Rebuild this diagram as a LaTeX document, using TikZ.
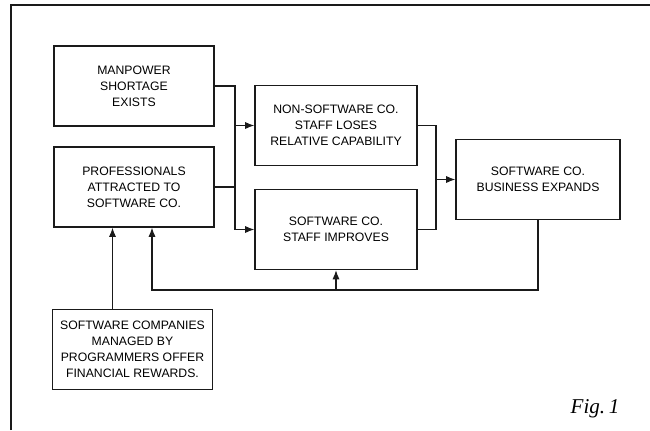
\documentclass[tikz,border=0pt]{standalone}
\usepackage{fontspec}
\setmainfont{Liberation Serif}
\newfontfamily\boxfont{Liberation Sans}
\usepackage{tikz}
\usetikzlibrary{arrows.meta,positioning}
\definecolor{figink}{HTML}{1A1A1A}
\tikzset{
  block/.style={rectangle,draw=figink,line width=1pt,fill=white,align=center,minimum width=4cm,minimum height=2cm,inner sep=2pt,font=\boxfont\fontsize{8.7}{11.4}\selectfont},
  link/.style={line width=0.75pt,draw=figink},
  flow/.style={-{Latex[length=2.3mm,width=1.8mm]},line width=0.75pt,draw=figink}
}

\begin{document}
\begin{tikzpicture}[x=0.025cm,y=-0.025cm]
\useasboundingbox (0,0) rectangle (650,430);
\draw[link] (11,430) -- (11,5) -- (650,5);
\node[block] (manp) at (134,86) {MANPOWER\\SHORTAGE\\EXISTS};
\node[block] (prof) at (134,187) {PROFESSIONALS\\ATTRACTED TO\\SOFTWARE CO.};
\node[block,minimum width=4.05cm] (nonsw) at (336,125.5) {NON-SOFTWARE CO.\\STAFF LOSES\\RELATIVE CAPABILITY};
\node[block,minimum width=4.05cm] (staff) at (336,229.5) {SOFTWARE CO.\\STAFF IMPROVES};
\node[block,minimum width=4.1cm] (biz) at (538,179.5) {SOFTWARE CO.\\BUSINESS EXPANDS};
\node[block] (mgd) at (132.5,349.5) {SOFTWARE COMPANIES\\MANAGED BY\\PROGRAMMERS OFFER\\FINANCIAL REWARDS.};
\node[font=\itshape\fontsize{15}{17}\selectfont] (fig) at (595,409) {Fig.\,1};
\coordinate (jl) at (235,0);
\coordinate (jr) at (436,0);
\coordinate (fbk) at (538,290);
% inputs to the two staff boxes
\draw[flow] (manp.east) -| (jl |- staff.west) -- (staff.west);
\draw[link] (prof.east) -- (jl |- prof.east);
\draw[flow] (jl |- nonsw.west) -- (nonsw.west);
% staff boxes to business
\draw[link] (nonsw.east) -| (jr |- staff.east) -- (staff.east);
\draw[flow] (jr |- biz.west) -- (biz.west);
% feedback loop
\draw[flow] (biz.south) -- (fbk) -| ([xshift=0.45cm]prof.south);
\draw[flow] (fbk -| staff.south) -- (staff.south);
\draw[flow] ([xshift=-0.5cm]mgd.north) -- ([xshift=-0.5cm]mgd.north |- prof.south);
\end{tikzpicture}
\end{document}
